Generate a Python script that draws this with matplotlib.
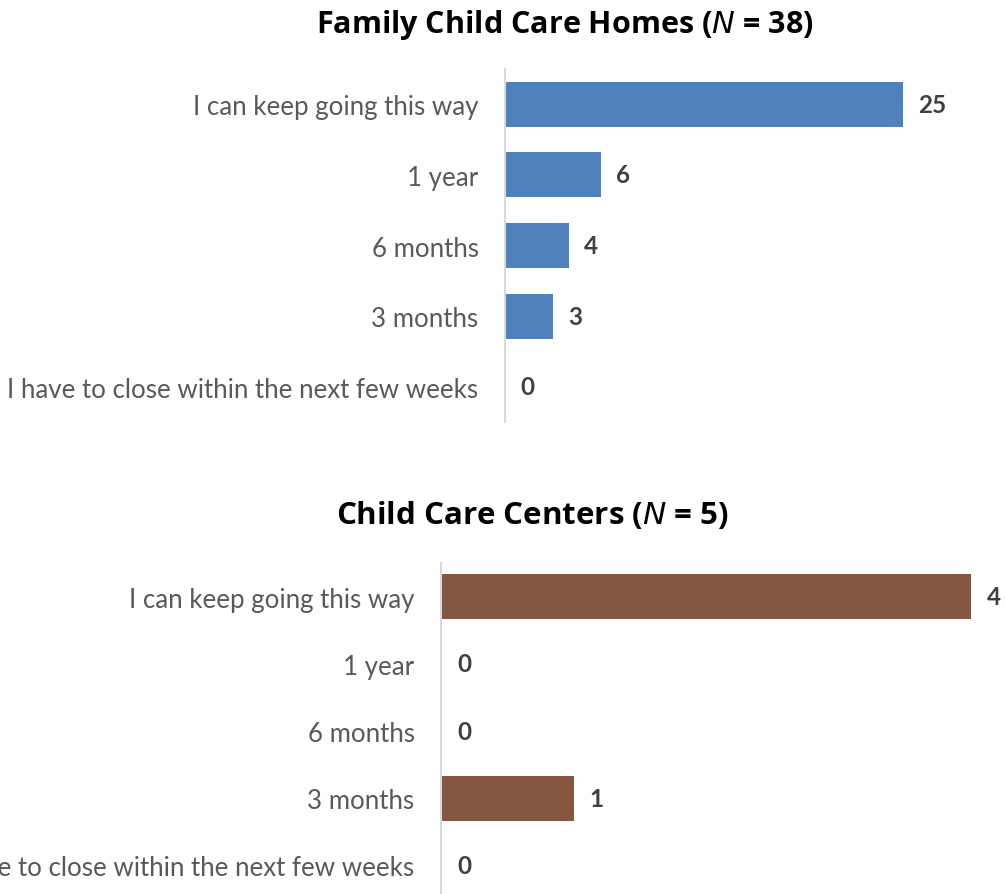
import matplotlib
matplotlib.use("Agg")
import matplotlib.pyplot as plt

# respuestas: ¿cuánto tiempo puede seguir operando así?
categorias = ["I can keep going this way", "1 year", "6 months", "3 months",
              "I have to close within the next few weeks"]
hogares = [25, 6, 4, 3, 0]
centros = [4, 0, 0, 1, 0]

titulo_hogares = "Family Child Care Homes ($\\mathit{N}$ = 38)"
titulo_centros = "Child Care Centers ($\\mathit{N}$ = 5)"

FUENTE = "Lato"
GRIS_TEXTO = "#595959"
GRIS_VALOR = "#404040"
GRIS_EJE = "#d9d9d9"

W, H = 1005, 895
fig = plt.figure(figsize=(W / 100, H / 100), dpi=100)


def px_ejes(x0, y0, x1, y1):
    # convierte píxeles (origen arriba a la izquierda) en coordenadas de figura
    return [x0 / W, 1 - y1 / H, (x1 - x0) / W, (y1 - y0) / H]


def dibujar(rect, valores, color, xmax, desfase, alto):
    ax = fig.add_axes(rect)
    pos = list(range(len(categorias)))
    ax.barh(pos, valores, height=alto, color=color)
    ax.set_ylim(len(categorias) - 0.5, -0.5)
    ax.set_xlim(0, xmax)
    ax.set_yticks(pos)
    ax.set_yticklabels(categorias, fontsize=18.6, color=GRIS_TEXTO, family=FUENTE)
    ax.tick_params(axis="y", length=0, pad=19)
    ax.set_xticks([])
    for lado in ["top", "right", "bottom"]:
        ax.spines[lado].set_visible(False)
    ax.spines["left"].set_color(GRIS_EJE)
    ax.spines["left"].set_linewidth(1.5)
    for p, v in zip(pos, valores):
        ax.text(v + desfase, p, str(v), va="center", ha="left", fontsize=17.5,
                fontweight="bold", color=GRIS_VALOR, family=FUENTE)
    return ax


# arriba: hogares (16 px por unidad), abajo: centros (132.5 px por unidad)
dibujar(px_ejes(505, 70, 985, 423), hogares, "#4f81bd", 480 / 15.92, 0.95, 0.64)
dibujar(px_ejes(441, 564, 1000, 900), centros, "#855640", 559 / 132.5, 0.12, 0.67)

fig.text(565 / W, 1 - 25 / H, titulo_hogares, ha="center", va="center",
         fontsize=22, fontweight="bold", color="black", family="Open Sans")
fig.text(532 / W, 1 - 515 / H, titulo_centros, ha="center", va="center",
         fontsize=22.5, fontweight="bold", color="black", family="Open Sans")

fig.savefig("out.png", dpi=100, facecolor="white")
